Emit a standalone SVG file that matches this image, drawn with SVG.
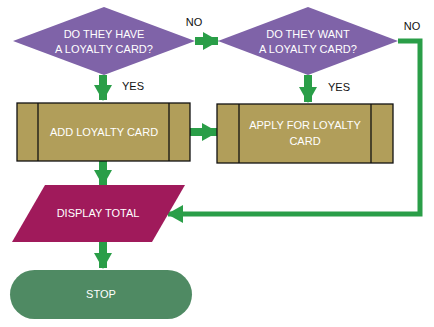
<svg xmlns="http://www.w3.org/2000/svg" width="434" height="327" viewBox="0 0 434 327">
<style>
text{font-family:"Liberation Sans",Arial,sans-serif;font-size:11px;text-anchor:middle}
.w{fill:#ffffff}
.k{fill:#111111}
.dec{fill:#7f63a8}
.proc{fill:#b19e5a;stroke:#111;stroke-width:1.3}
.pl{stroke:#111;stroke-width:1.3}
.c{stroke:#2a9e48;fill:none}
</style>
<defs>
<marker id="ah" markerUnits="userSpaceOnUse" markerWidth="16" markerHeight="18" refX="15" refY="9" orient="auto">
<path d="M0,0 L16,9 L0,18 z" fill="#2a9e48"/>
</marker>
</defs>
<g id="connectors">
<line class="c" x1="103" y1="75" x2="103" y2="100" stroke-width="8" marker-end="url(#ah)"/>
<line class="c" x1="195" y1="41" x2="218" y2="41" stroke-width="8" marker-end="url(#ah)"/>
<line class="c" x1="308" y1="75" x2="308" y2="102" stroke-width="8" marker-end="url(#ah)"/>
<line class="c" x1="190" y1="132" x2="217" y2="132" stroke-width="8" marker-end="url(#ah)"/>
<line class="c" x1="103" y1="161" x2="103" y2="185" stroke-width="8" marker-end="url(#ah)"/>
<line class="c" x1="103" y1="242" x2="103" y2="268" stroke-width="8" marker-end="url(#ah)"/>
<polyline class="c" points="398,41 420,41 420,214 168,214" stroke-width="5" marker-end="url(#ah)"/>
<text class="k" x="194" y="26">NO</text>
<text class="k" x="412" y="30">NO</text>
<text class="k" x="133" y="90">YES</text>
<text class="k" x="339" y="91">YES</text>
</g>
<g id="d1">
<polygon class="dec" points="104,7 195,41 104,75 13,41"/>
<text class="w" x="104" y="38">DO THEY HAVE</text>
<text class="w" x="104" y="53">A LOYALTY CARD?</text>
</g>
<g id="d2">
<polygon class="dec" points="308,7 398,41 308,75 218,41"/>
<text class="w" x="308" y="38">DO THEY WANT</text>
<text class="w" x="308" y="53">A LOYALTY CARD?</text>
</g>
<g id="p1">
<rect class="proc" x="17" y="103" width="173" height="58"/>
<line class="pl" x1="38" y1="103" x2="38" y2="161"/>
<line class="pl" x1="169" y1="103" x2="169" y2="161"/>
<text class="w" x="104" y="136">ADD LOYALTY CARD</text>
</g>
<g id="p2">
<rect class="proc" x="217" y="104" width="176" height="59"/>
<line class="pl" x1="239" y1="104" x2="239" y2="163"/>
<line class="pl" x1="371" y1="104" x2="371" y2="163"/>
<text class="w" x="305" y="129">APPLY FOR LOYALTY</text>
<text class="w" x="305" y="145">CARD</text>
</g>
<g id="display">
<polygon points="45,185 185,185 152,242 12,242" fill="#a01a5b"/>
<text class="w" x="98" y="217">DISPLAY TOTAL</text>
</g>
<g id="stop">
<rect x="10" y="270" width="182" height="49" rx="24.5" fill="#4f8a63"/>
<text class="w" x="101" y="298">STOP</text>
</g>
</svg>
